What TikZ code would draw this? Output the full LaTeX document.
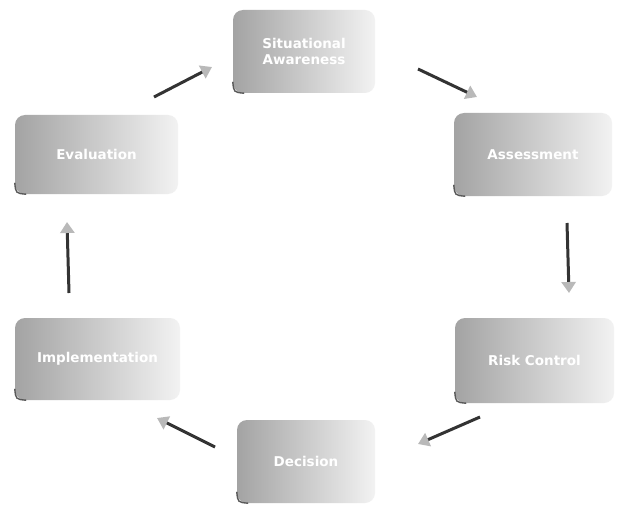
\documentclass[tikz,border=0pt]{standalone}
\usepackage{fontspec}
\setmainfont{DejaVu Sans}
\usetikzlibrary{arrows.meta}
\begin{document}
\begin{tikzpicture}[x=1pt,y=-1pt]
\tikzset{
  stepbox/.style={rectangle, rounded corners=10pt, left color=gray!72, middle color=gray!58,
    right color=gray!10, draw=none, inner sep=0pt, text=white, align=center,
    font=\bfseries\fontsize{13.5}{16}\selectfont},
  corner/.style={draw=black!65, line width=1.4pt, line cap=round},
  flow/.style={line width=3pt, draw=black!80,
    -{Triangle[length=11pt,width=14pt,color=gray!55]}}
}
\fill[white] (0,0) rectangle (618,508);
\useasboundingbox (0,0) rectangle (618,508);

\node[stepbox, minimum width=142pt, minimum height=83pt] (sa)   at (304,51.5)  {Situational\\Awareness};
\node[stepbox, minimum width=158pt, minimum height=83pt] (as)   at (533,154.5) {Assessment};
\node[stepbox, minimum width=159pt, minimum height=85pt] (rc)   at (534.5,360.5) {Risk Control};
\node[stepbox, minimum width=138pt, minimum height=83pt] (de)   at (306,461.5) {Decision};
\node[stepbox, minimum width=165pt, minimum height=82pt] (im)   at (97.5,359)  {Implementation};
\node[stepbox, minimum width=163pt, minimum height=79pt] (ev)   at (96.5,154.5) {Evaluation};

\foreach \n in {sa,as,rc,de,im,ev}{
  \draw[corner] ([yshift=11pt]\n.south west) .. controls ([xshift=1pt,yshift=1pt]\n.south west) .. ([xshift=11pt]\n.south west);
}

\coordinate (a1s) at (154,97);  \coordinate (a1e) at (212,67);
\coordinate (a2s) at (418,69);  \coordinate (a2e) at (477,97);
\coordinate (a3s) at (567,223); \coordinate (a3e) at (569,293);
\coordinate (a4s) at (480,417); \coordinate (a4e) at (418,444);
\coordinate (a5s) at (215,447); \coordinate (a5e) at (157,418);
\coordinate (a6s) at (69,293);  \coordinate (a6e) at (67,222);

\draw[flow] (a1s) -- (a1e);
\draw[flow] (a2s) -- (a2e);
\draw[flow] (a3s) -- (a3e);
\draw[flow] (a4s) -- (a4e);
\draw[flow] (a5s) -- (a5e);
\draw[flow] (a6s) -- (a6e);
\end{tikzpicture}
\end{document}
